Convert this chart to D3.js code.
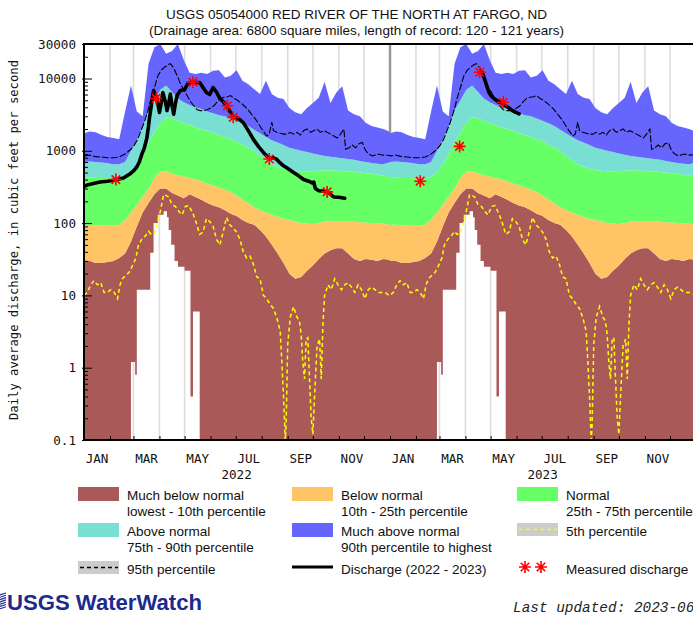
<!DOCTYPE html>
<html><head><meta charset="utf-8">
<script src="https://cdn.jsdelivr.net/npm/d3@7"></script>
<style>body{margin:0;background:#fff}svg{display:block}</style>
</head><body>
<svg id="chart" width="693" height="618"></svg>
<script>
// ---------------- DATA ----------------
const titleText = "USGS 05054000 RED RIVER OF THE NORTH AT FARGO, ND";
const subtitleText = "(Drainage area: 6800 square miles, length of record: 120 - 121 years)";
const yAxisTitle = "Daily average discharge, in cubic feet per second";
const yTickValues = [0.1, 1, 10, 100, 1000, 10000, 30000];
const yTickLabels = ["0.1", "1", "10", "100", "1000", "10000", "30000"];
const monthLabels = ["JAN", "MAR", "MAY", "JUL", "SEP", "NOV"];
const years = [2022, 2023];

// day-of-year sample points for the daily statistics (same for each year)
const statDays = [0,7,14,21,28,35,42,49,56,63,70,77,84,91,98,105,112,119,126,133,140,147,154,161,168,175,182,189,196,203,210,217,224,231,238,245,252,259,266,273,280,287,294,301,308,315,322,329,336,343,350,357,364];
const pMax = [1750,1850,1800,1650,1550,1500,1450,3500,8000,3500,3000,16000,27000,30000,22000,24000,30000,18000,12000,11500,12000,11500,12800,13000,10300,10900,13000,9300,8300,7100,6100,9300,6100,5400,5200,3900,3400,3200,3900,4600,5400,9000,4600,6400,7800,3600,3200,3000,2450,2200,2100,2000,1850];
const p90 = [700,710,700,690,670,650,650,700,1000,1400,2200,3600,5000,7000,8000,6500,5300,4700,4300,4000,3800,3500,3300,3100,3000,2800,2600,2400,2200,1950,1750,1550,1400,1300,1200,1100,1050,1000,960,920,880,850,830,810,790,770,750,720,700,680,660,650,690];
const p75 = [430,430,420,420,420,415,415,440,500,650,900,1300,1800,2400,2900,2800,2600,2400,2300,2100,2000,1900,1750,1650,1550,1450,1350,1200,1100,1000,850,750,650,600,570,540,530,520,520,520,530,540,540,530,520,520,510,500,490,480,470,450,440];
const p25 = [95,95,93,92,92,93,95,110,140,180,230,300,420,520,520,480,460,440,420,400,380,350,330,310,290,270,240,210,190,165,150,140,130,120,115,110,105,100,98,97,100,105,105,105,105,105,104,103,102,100,100,98,96];
const p10 = [30,30,28,28,29,30,33,38,55,90,140,190,250,300,300,260,240,220,250,230,210,190,175,165,150,135,125,110,100,95,80,65,50,38,28,20,17,18,22,26,32,38,42,45,45,38,32,30,32,31,30,32,31];
// lowest value of record (bottom of the brown band), step values
const minDays = [0,56,61,63,79,83,88,95,99,101,104,108,112,120,127,130,138];
const minVals = [0.01,1.2,0.8,12,39,100,130,146,120,80,50,30,25,22,0.4,6,0.01];
// 5th percentile
const p5Days = [0,4,8,12,16,20,24,28,32,36,40,43,46,50,54,58,62,65,69,73,77,80,84,87,91,95,98,101,105,109,113,117,121,125,130,134,138,142,146,150,154,158,162,166,170,174,178,182,186,190,194,198,202,206,210,214,218,222,226,230,234,236,238,240,241,243,246,250,254,257,259,261,263,265,267,269,271,273,275,278,281,283,285,287,291,295,299,303,307,311,315,319,323,327,331,335,339,343,347,351,355,359,364];
const p5Vals = [10,11,14,16,14,15,11,11,12,11,9,14,17,19,21,26,33,50,60,66,77,70,72,95,146,249,240,230,180,170,146,130,170,175,135,100,70,75,115,105,90,60,50,75,120,95,85,75,60,40,33,35,27,18,17,10,9,7.5,6.6,4.9,3.2,1.2,0.4,0.1,0.15,2.1,5,7,5,4.4,2.9,1.2,0.7,2.5,2.6,0.7,0.2,0.12,0.4,2,2.5,0.7,4,10,14,12,17,14,12,14,15,13,11,14,12,9,12,13,12,11,11,11,10];
// 95th percentile
const p95Days = [0,7,14,21,28,35,42,49,56,60,64,68,72,76,80,84,88,92,96,100,103,107,111,115,119,123,127,131,135,139,143,147,151,155,159,163,167,171,175,179,183,187,191,195,199,203,207,211,215,218,221,224,226,230,234,238,242,246,250,254,258,262,266,270,274,278,282,286,290,294,298,302,306,310,312,316,320,324,328,332,336,340,344,348,352,356,360,364];
const p95Vals = [850,870,830,820,800,800,820,900,1050,1200,1440,1900,2500,3500,5300,7500,10800,13000,14300,15500,16000,14000,11000,8500,7000,5800,4800,4200,3700,3600,3600,3700,3900,4200,4800,5300,5500,5600,5800,5300,5000,4600,4200,3800,3300,2900,2500,2100,1800,1600,1700,2500,1900,1800,1750,1700,1700,1800,1700,1800,1650,1900,2000,1800,1900,2000,1800,1900,1800,1700,1600,1500,1700,2000,1050,1100,1200,1100,1250,1300,1000,900,850,880,900,870,880,860];
// daily discharge (day of year, cfs)
const q2022Days = [0,5,10,19,28,37,47,55,60,63,66,69,72,75,77,78,80,81,83,85,87,90,92,94,97,99,101,103,105,107,109,111,115,120,124,130,134,138,142,146,150,154,158,162,166,170,174,178,184,190,196,202,208,214,218,222,226,230,234,238,244,250,256,262,268,272,274,276,280,286,290,294,298,304,311];
const q2022Vals = [320,340,350,370,380,395,420,480,540,600,700,900,1100,1500,2200,2800,4000,5000,6800,6000,5300,3400,4500,6400,4800,3600,4500,6100,4200,3200,4500,5800,6800,7000,8600,9000,8800,8800,7500,6400,6000,7500,6500,5300,4800,4200,3500,2950,2800,2450,1900,1440,1150,950,850,780,800,760,680,620,560,500,450,400,380,360,370,300,280,275,270,250,230,228,220];
const q2023Days = [108,110,112,114,116,118,121,124,127,130,134,138,142,146,150,154];
const q2023Vals = [12500,12000,10500,8900,7500,6400,5700,5300,5000,4800,4500,4200,3900,3600,3400,3250];
// field measurements
const measDates = ["2022-02-08","2022-03-28","2022-05-11","2022-06-21","2022-06-28","2022-08-10","2022-10-18","2023-02-06","2023-03-25","2023-04-18","2023-05-16"];
const measVals = [400,5300,8900,4200,2900,770,270,380,1150,12200,4700];

const legendItems = [
  {type:"box", color:"#aa5959", lines:["Much below normal","lowest - 10th percentile"], col:0, row:0},
  {type:"box", color:"#ffc466", lines:["Below normal","10th - 25th percentile"], col:1, row:0},
  {type:"box", color:"#66ff66", lines:["Normal","25th - 75th percentile"], col:2, row:0},
  {type:"box", color:"#79dfd2", lines:["Above normal","75th - 90th percentile"], col:0, row:1},
  {type:"box", color:"#6666ff", lines:["Much above normal","90th percentile to highest"], col:1, row:1},
  {type:"p5", lines:["5th percentile"], col:2, row:1},
  {type:"p95", lines:["95th percentile"], col:0, row:2},
  {type:"flow", lines:["Discharge (2022 - 2023)"], col:1, row:2},
  {type:"meas", lines:["Measured discharge"], col:2, row:2}
];

// ---------------- CHART ----------------
const W = 693, H = 618;
const L = 84, R = 696, T = 44, B = 440;
const COL = {brown:"#aa5959", orange:"#ffc466", green:"#66ff66", cyan:"#79dfd2", blue:"#6666ff"};

const svg = d3.select("#chart");
const defs = svg.append("defs");
defs.append("clipPath").attr("id","plotClip").append("rect")
  .attr("x", L).attr("y", T).attr("width", R - L).attr("height", B - T);

const x = d3.scaleTime().domain([new Date(2022,0,1), new Date(2024,0,1)]).range([L, R]);
const y = d3.scaleLog().domain([0.1, 30000]).range([B, T]);

const dayDate = (yr, d) => new Date(yr, 0, 1 + d);
const statRows = years.flatMap(yr => statDays.map((d, i) => ({
  date: dayDate(yr, d), max: pMax[i], p90: p90[i], p75: p75[i], p25: p25[i], p10: p10[i]
})));
const gapRows = years.flatMap(yr => minDays.map((d, i) => ({date: dayDate(yr, d), v: minVals[i]})));
const p5Rows = years.flatMap(yr => p5Days.map((d, i) => ({date: dayDate(yr, d), v: p5Vals[i]})));
const p95Rows = years.flatMap(yr => p95Days.map((d, i) => ({date: dayDate(yr, d), v: p95Vals[i]})));
const q22 = q2022Days.map((d, i) => ({date: dayDate(2022, d), v: q2022Vals[i]}));
const q23 = q2023Days.map((d, i) => ({date: dayDate(2023, d), v: q2023Vals[i]}));
const parse = d3.timeParse("%Y-%m-%d");
const meas = measDates.map((s, i) => ({date: parse(s), v: measVals[i]}));

// mask that removes the part below the record minimum
const mask = defs.append("mask").attr("id","gapMask")
  .attr("maskUnits","userSpaceOnUse").attr("x",0).attr("y",0).attr("width",W).attr("height",H);
mask.append("rect").attr("x",0).attr("y",0).attr("width",W).attr("height",H).attr("fill","white");
mask.append("path").datum(gapRows).attr("fill","black")
  .attr("d", d3.area().curve(d3.curveStepAfter)
    .x(d => x(d.date)).y0(B + 30).y1(d => Math.min(y(d.v), B + 30)));

const plot = svg.append("g").attr("clip-path","url(#plotClip)");

// month gridlines
const months = d3.timeMonth.range(new Date(2022,1,1), new Date(2024,0,1));
plot.selectAll("line.grid").data(months).join("line").attr("class","grid")
  .attr("x1", d => x(d)).attr("x2", d => x(d)).attr("y1", T).attr("y2", B)
  .attr("stroke", d => d.getMonth() === 0 ? "#999999" : "#dddddd")
  .attr("stroke-width", d => d.getMonth() === 0 ? 2.5 : 1.6);

// percentile bands
const bands = [
  {lo: r => 0.01, hi: r => r.p10, color: COL.brown, masked: true},
  {lo: r => r.p10, hi: r => r.p25, color: COL.orange},
  {lo: r => r.p25, hi: r => r.p75, color: COL.green},
  {lo: r => r.p75, hi: r => r.p90, color: COL.cyan},
  {lo: r => r.p90, hi: r => r.max, color: COL.blue}
];
bands.forEach(b => {
  const p = plot.append("path").datum(statRows).attr("fill", b.color).attr("stroke","none")
    .attr("d", d3.area().x(r => x(r.date)).y0(r => y(b.lo(r))).y1(r => y(b.hi(r))));
  if (b.masked) p.attr("mask","url(#gapMask)");
});

const line = d3.line().x(d => x(d.date)).y(d => y(d.v));
plot.append("path").datum(p5Rows).attr("fill","none").attr("stroke","#ffff00")
  .attr("stroke-width",1.5).attr("stroke-dasharray","4,3").attr("d", line);
plot.append("path").datum(p95Rows).attr("fill","none").attr("stroke","#000")
  .attr("stroke-width",1.1).attr("stroke-dasharray","7,2").attr("d", line);
[q22, q23].forEach(q => plot.append("path").datum(q).attr("fill","none").attr("stroke","#000")
  .attr("stroke-width",3.6).attr("stroke-linejoin","round").attr("stroke-linecap","round").attr("d", line));

function starPath(cx, cy, r) {
  const a = r * 0.7071;
  return `M${cx - r},${cy}H${cx + r}M${cx},${cy - r}V${cy + r}` +
    `M${cx - a},${cy - a}L${cx + a},${cy + a}M${cx - a},${cy + a}L${cx + a},${cy - a}`;
}
plot.selectAll("path.meas").data(meas).join("path").attr("class","meas")
  .attr("d", d => starPath(x(d.date), y(d.v), 6))
  .attr("stroke","#ff0000").attr("stroke-width",1.6).attr("fill","none");

// ---------------- AXES ----------------
const monoFont = "'DejaVu Sans Mono', monospace";
const isMajor = v => Math.abs(Math.log10(v) - Math.round(Math.log10(v))) < 1e-9;
const minorTicks = y.ticks().filter(v => !isMajor(v) && v < 30000);

svg.append("g").attr("transform", `translate(${L},0)`)
  .call(d3.axisLeft(y).tickValues(minorTicks).tickSize(-4).tickFormat(""))
  .call(g => g.select(".domain").remove());
const yAx = svg.append("g").attr("transform", `translate(${L},0)`)
  .call(d3.axisLeft(y).tickValues(yTickValues).tickSizeInner(-8).tickSizeOuter(0).tickPadding(8)
    .tickFormat((d, i) => yTickLabels[i]))
  .call(g => g.select(".domain").remove());
yAx.selectAll("text").attr("font-family", monoFont).attr("font-size", 12.6).attr("fill","#111");
yAx.selectAll("line").attr("x1", -2);

svg.append("g").attr("transform", `translate(0,${B})`)
  .call(d3.axisBottom(x).tickValues(months).tickSize(-4).tickFormat(""))
  .call(g => g.select(".domain").remove());
const labelDates = years.flatMap(yr => [0,2,4,6,8,10].map(m => new Date(yr, m, 16)));
const xAx = svg.append("g").attr("transform", `translate(0,${B})`)
  .call(d3.axisBottom(x).tickValues(labelDates).tickSize(0).tickPadding(14)
    .tickFormat((d, i) => monthLabels[i % 6]))
  .call(g => g.select(".domain").remove());
xAx.selectAll("text").attr("font-family", monoFont).attr("font-size", 12.6).attr("fill","#111");

svg.selectAll("text.year").data(years).join("text").attr("class","year")
  .attr("x", yr => x(new Date(yr, 6, 2))).attr("y", 479)
  .attr("text-anchor","middle").attr("font-family", monoFont).attr("font-size", 12.6)
  .attr("fill","#111").text(yr => yr);

// frame
svg.append("line").attr("x1", L).attr("x2", L).attr("y1", T - 1).attr("y2", B + 1)
  .attr("stroke","#000").attr("stroke-width",2);
svg.append("line").attr("x1", L - 1).attr("x2", R).attr("y1", B).attr("y2", B)
  .attr("stroke","#000").attr("stroke-width",2);
svg.append("line").attr("x1", L - 1).attr("x2", R).attr("y1", T).attr("y2", T)
  .attr("stroke","#000").attr("stroke-width",2);

// axis title
svg.append("text").attr("transform", `translate(14,240) rotate(-90)`)
  .attr("text-anchor","middle").attr("dominant-baseline","middle")
  .attr("font-family", monoFont).attr("font-size", 12).attr("fill","#111")
  .attr("textLength", 360).attr("lengthAdjust","spacingAndGlyphs").text(yAxisTitle);

// titles
const sans = "'Liberation Sans', Arial, sans-serif";
svg.append("text").attr("x", 356.5).attr("y", 19).attr("text-anchor","middle")
  .attr("font-family", sans).attr("font-size", 13.5).attr("fill","#111").text(titleText);
svg.append("text").attr("x", 356.5).attr("y", 35).attr("text-anchor","middle")
  .attr("font-family", sans).attr("font-size", 13.5).attr("fill","#111").text(subtitleText);

// ---------------- LEGEND ----------------
const colX = [78, 292, 517];
const rowTop = [487, 523, 561];
const lg = svg.append("g");
legendItems.forEach(it => {
  const sx = colX[it.col], sy = rowTop[it.row];
  const g = lg.append("g");
  if (it.type === "box") {
    g.append("rect").attr("x", sx).attr("y", sy).attr("width", 41).attr("height", 14).attr("fill", it.color);
  } else if (it.type === "p5" || it.type === "p95") {
    g.append("rect").attr("x", sx).attr("y", sy).attr("width", 41).attr("height", 13).attr("fill", "#cccccc");
    g.append("line").attr("x1", sx + 2).attr("x2", sx + 40).attr("y1", sy + 6.5).attr("y2", sy + 6.5)
      .attr("stroke", it.type === "p5" ? "#ffff00" : "#000").attr("stroke-width", 1.3).attr("stroke-dasharray", "4,3");
  } else if (it.type === "flow") {
    g.append("line").attr("x1", sx).attr("x2", sx + 41).attr("y1", sy + 6).attr("y2", sy + 6)
      .attr("stroke","#000").attr("stroke-width", 3);
  } else if (it.type === "meas") {
    [sx + 8, sx + 24].forEach(cx => g.append("path").attr("d", starPath(cx, sy + 6, 6))
      .attr("stroke","#ff0000").attr("stroke-width",1.6).attr("fill","none"));
  }
  it.lines.forEach((t, k) => g.append("text").attr("x", sx + 49).attr("y", sy + 13 + k * 16)
    .attr("font-family", sans).attr("font-size", 13.5).attr("fill","#111").text(t));
});

// ---------------- FOOTER ----------------
const logo = svg.append("g");
[0,1,2,3,4,5,6].forEach(k => logo.append("line").attr("x1", 0).attr("x2", 6)
  .attr("y1", 595 + k * 2.3).attr("y2", 593 + k * 2.3).attr("stroke", "#1c2a8c").attr("stroke-width", 1.2));
logo.append("text").attr("x", 7).attr("y", 610).attr("font-family", sans).attr("font-weight","bold")
  .attr("font-size", 22).attr("fill","#1c2a8c").attr("textLength", 195).attr("lengthAdjust","spacingAndGlyphs")
  .text("USGS WaterWatch");
svg.append("text").attr("x", 513).attr("y", 612).attr("font-family","'Liberation Mono', 'Courier New', monospace")
  .attr("font-style","italic").attr("font-size", 14.4).attr("fill","#222").text("Last updated: 2023-06");
</script>
</body></html>
